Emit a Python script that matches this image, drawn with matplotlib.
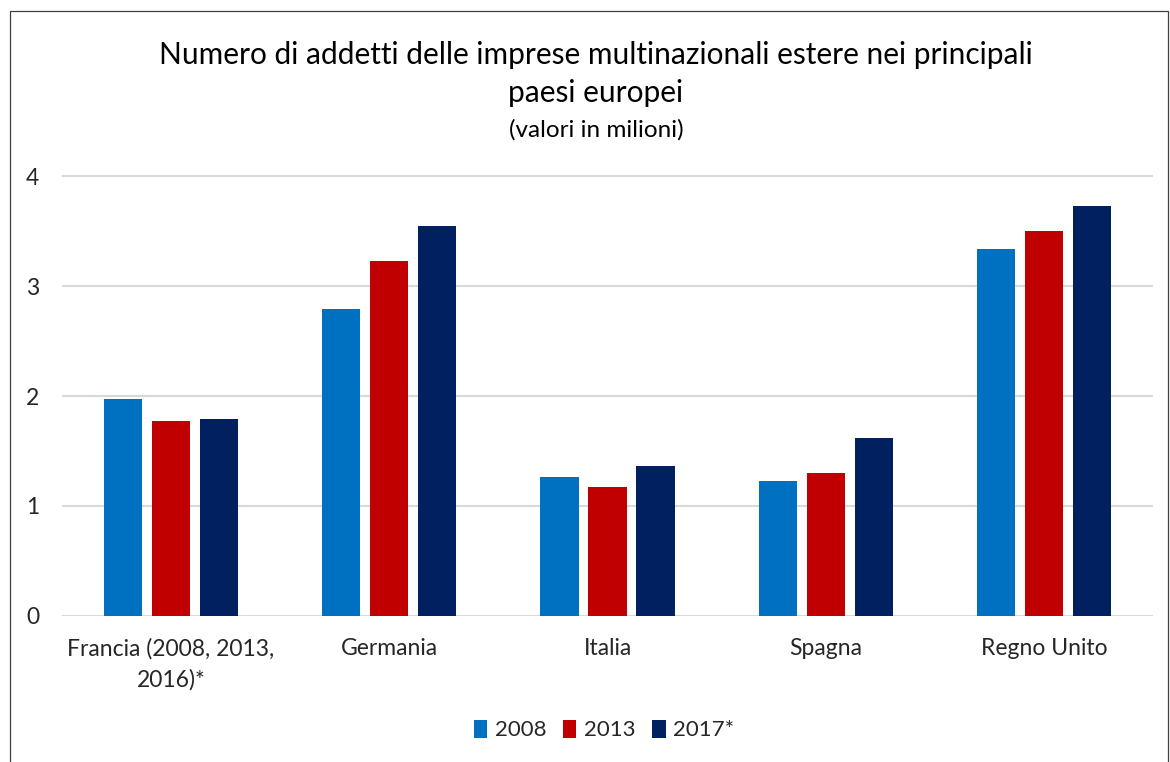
import matplotlib
matplotlib.use("Agg")
import matplotlib.pyplot as plt
import numpy as np
from matplotlib.patches import Rectangle

categories = ["Francia (2008, 2013,\n2016)*", "Germania", "Italia", "Spagna", "Regno Unito"]
series_names = ["2008", "2013", "2017*"]
v2008 = [1.97, 2.79, 1.26, 1.23, 3.34]
v2013 = [1.77, 3.23, 1.17, 1.30, 3.50]
v2017 = [1.79, 3.55, 1.36, 1.62, 3.73]
colors = ["#0070C0", "#C00000", "#002060"]
yticks = [0, 1, 2, 3, 4]

plt.rcParams['font.family'] = ['Lato', 'DejaVu Sans']

W, H = 1170, 762
fig = plt.figure(figsize=(W / 100, H / 100), dpi=100)
fig.patch.set_facecolor('white')

# outer border
fig.add_artist(Rectangle((10 / W, -0.05), (1168 - 10) / W, 1.05 - 11 / H,
                         transform=fig.transFigure, fill=False,
                         edgecolor='#404040', linewidth=0.9))

left, right = 62 / W, 1153 / W
bottom, top = 1 - 616 / H, 1 - 174 / H
ax = fig.add_axes([left, bottom, right - left, top - bottom])

x = np.arange(len(categories))
width = 0.175
step = 0.22
for i, (vals, c, name) in enumerate(zip([v2008, v2013, v2017], colors, series_names)):
    ax.bar(x + (i - 1) * step, vals, width=width, color=c, label=name, zorder=3)

ax.set_xlim(-0.5, len(categories) - 0.5)
ax.set_ylim(0, 4 * (616 - 174) / (616 - 176))
ax.set_yticks(yticks)
ax.set_yticklabels([str(t) for t in yticks])
ax.set_xticks(x)
ax.set_xticklabels(categories, linespacing=1.55)
ax.grid(axis='y', color='#d9d9d9', linewidth=1.5, zorder=0)
for s in ax.spines.values():
    s.set_visible(False)
ax.tick_params(axis='both', length=0, labelsize=16.5, colors='#262626')
ax.tick_params(axis='x', pad=16)
for lbl in ax.get_yticklabels():
    lbl.set_horizontalalignment('center')
ax.tick_params(axis='y', pad=0)
for lbl in ax.get_yticklabels():
    lbl.set_x(-0.027)

cx = 596 / W
fig.text(cx, 1 - 55 / H, "Numero di addetti delle imprese multinazionali estere nei principali",
         ha='center', va='center', fontsize=21.5, color='#000000')
fig.text(cx, 1 - 93 / H, "paesi europei", ha='center', va='center', fontsize=21.5, color='#000000')
fig.text(cx, 1 - 130 / H, "(valori in milioni)", ha='center', va='center', fontsize=17.5, color='#000000')

leg = fig.legend(loc='center', bbox_to_anchor=(604 / W, 1 - 730 / H), ncol=3, frameon=False,
                 fontsize=16, handlelength=0.6, handleheight=0.9, handletextpad=0.35,
                 columnspacing=0.75)
for t in leg.get_texts():
    t.set_color('#262626')

fig.savefig("out.png", dpi=100, facecolor='white')
